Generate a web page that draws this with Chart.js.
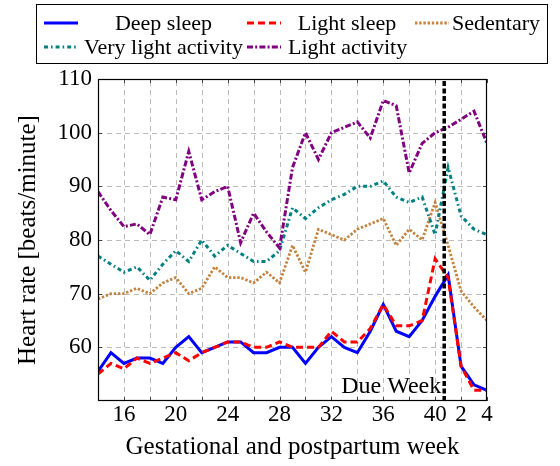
<!DOCTYPE html>
<html><head><meta charset="utf-8">
<script src="https://cdn.jsdelivr.net/npm/chart.js@4/dist/chart.umd.min.js"></script>
<style>
html,body{margin:0;padding:0;background:#fff;}
#wrap{position:relative;width:560px;height:466px;overflow:hidden;}
#c{position:absolute;left:0;top:0;}
#box{position:absolute;left:36px;top:4px;width:512px;height:60px;border:1px solid #000;box-sizing:border-box;}
.lt{position:absolute;font-family:'Liberation Serif',serif;font-size:22px;line-height:24px;height:24px;white-space:nowrap;color:#000;text-align:center;}
#sv{position:absolute;left:0;top:0;}
</style></head>
<body><div id="wrap">
<canvas id="c" width="560" height="466"></canvas>
<div id="box"></div>
<svg id="sv" width="560" height="70"></svg>
</div>
<script>
// ---- data ----
const weeks = [14,15,16,17,18,19,20,21,22,23,24,25,26,27,28,29,30,31,32,33,34,35,36,37,38,39,40,41,42,43,44];
const deepSleep = [55.5,59,57,58,58,57,60,62,59,60,61,61,59,59,60,60,57,60,62,60,59,63,68,63,62,65,69.5,73.5,56.5,53,52];
const lightSleep = [55,57,56,58,57,58,59,57.5,59,60,61,61,60,60,61,60,60,60,63,61,61,63.5,68,64,64,65,76.5,73,56.5,52,52];
const sedentary = [69,70,70,71,70,72,73,70,71,75,73,73,72,74,72,79,74,82,81,80,82,83,84,79,82,80,87,79,70.5,67.5,65];
const veryLightActivity = [77,75.5,74,75,72.5,75.5,78,76,80,77,79,77.5,76,76,78,86,84,86,87.5,88.5,90,90,91,88,87,88,81,93.5,84.5,82,81];
const lightActivity = [89,85.5,82.5,83,81,88,87.5,96.5,87.5,89,90,79.5,85,81.5,78.5,93.5,100,95,100,101,102,99,106,105,92.5,98,100,101,102.5,104,98];
const xTickValues = [16,20,24,28,32,36,40,42,44];
const xTickLabels = ['16','20','24','28','32','36','40','2','4'];
const yTickValues = [60,70,80,90,100,110];
const dueWeek = 40.7;
const seriesNames = ['Deep sleep','Light sleep','Sedentary','Very light activity','Light activity'];

// ---- styles ----
const styles = [
  {color:'#0000ff', dash:[], width:3},
  {color:'#ff0000', dash:[7,4], width:3},
  {color:'#c4843f', dash:[2.4,1.8], width:2.8},
  {color:'#008080', dash:[4,3,1.6,3], width:3},
  {color:'#800080', dash:[6,2.2,2,2.2], width:3}
];
const seriesData = [deepSleep, lightSleep, sedentary, veryLightActivity, lightActivity];
const FONT = "'Liberation Serif', serif";

const datasets = seriesData.map((arr,i)=>({
  label: seriesNames[i],
  data: arr.map((v,j)=>({x:weeks[j], y:v})),
  borderColor: styles[i].color,
  borderDash: styles[i].dash,
  borderWidth: styles[i].width,
  borderCapStyle:'butt',
  borderJoinStyle:'miter',
  pointRadius:0, tension:0, fill:false,
  order: 5-i
}));
datasets.push({
  label:'Due',
  data:[{x:dueWeek,y:50},{x:dueWeek,y:110}],
  borderColor:'#000', borderDash:[5,2.5], borderWidth:3.5, borderCapStyle:'butt',
  pointRadius:0, fill:false, order:0
});

const decor = {
  id:'decor',
  beforeDatasetsDraw(chart){
    const {ctx, chartArea:a, scales:{x,y}} = chart;
    ctx.save();
    ctx.strokeStyle='#bcbcbc'; ctx.lineWidth=1; ctx.setLineDash([5,4]);
    ctx.beginPath();
    for(let v=16; v<44; v+=2){
      const px = Math.round(x.getPixelForValue(v))+0.5;
      ctx.moveTo(px,a.bottom); ctx.lineTo(px,a.top);
    }
    yTickValues.forEach(v=>{
      if(v>=110) return;
      const py = Math.round(y.getPixelForValue(v))+0.5;
      ctx.moveTo(a.left,py); ctx.lineTo(a.right,py);
    });
    ctx.stroke();
    ctx.restore();
  },
  afterDraw(chart){
    const {ctx, chartArea:a, scales:{x,y}} = chart;
    ctx.save();
    ctx.strokeStyle='#444'; ctx.lineWidth=1;
    ctx.beginPath();
    for(let v=14; v<=44; v+=2){
      const px = Math.round(x.getPixelForValue(v))+0.5;
      ctx.moveTo(px,a.bottom); ctx.lineTo(px,a.bottom-4);
      ctx.moveTo(px,a.top); ctx.lineTo(px,a.top+4);
    }
    yTickValues.forEach(v=>{
      const py = Math.round(y.getPixelForValue(v))+0.5;
      ctx.moveTo(a.left,py); ctx.lineTo(a.left+4,py);
      ctx.moveTo(a.right,py); ctx.lineTo(a.right-4,py);
    });
    ctx.stroke();
    ctx.strokeStyle='#000'; ctx.lineWidth=1.2;
    ctx.strokeRect(a.left+0.5,a.top+0.5,a.right-a.left-1,a.bottom-a.top-1);
    ctx.fillStyle='#000';
    ctx.font = "24px "+FONT;
    ctx.textAlign='right'; ctx.textBaseline='alphabetic';
    ctx.fillText('Due Week', x.getPixelForValue(dueWeek)-3, 393);
    ctx.restore();
  }
};

Chart.defaults.font.family = FONT;
Chart.defaults.color = '#000';
new Chart(document.getElementById('c'), {
  type:'line',
  data:{datasets},
  options:{
    responsive:false, animation:false, devicePixelRatio:1,
    layout:{padding:{left:0,right:73,top:79,bottom:0}},
    plugins:{legend:{display:false}, tooltip:{enabled:false}},
    scales:{
      x:{type:'linear', min:14, max:44,
        afterFit(s){ s.height = 65; },
        ticks:{stepSize:2, autoSkip:false, maxRotation:0, padding:0,
          font:{size:23},
          callback:(v)=>{const i=xTickValues.indexOf(v); return i>=0?xTickLabels[i]:'';}},
        grid:{display:false, drawTicks:false},
        border:{display:false},
        title:{display:true, text:'Gestational and postpartum week', font:{size:25}, padding:{top:0,bottom:4}}
      },
      y:{min:50, max:110,
        afterFit(s){ s.width = 98; },
        ticks:{stepSize:10, padding:6, font:{size:23},
          callback:(v)=> yTickValues.includes(v)? String(v):''},
        grid:{display:false, drawTicks:false},
        border:{display:false},
        title:{display:true, text:'Heart rate [beats/minute]', font:{size:25}, padding:{top:13,bottom:0}}
      }
    }
  },
  plugins:[decor]
});

// ---- legend ----
const wrap = document.getElementById('wrap');
const sv = document.getElementById('sv');
const legendCells = [
  {i:0, sx:44, cx:84, cw:159, cy:23},
  {i:1, sx:247, cx:288, cw:118, cy:23},
  {i:2, sx:415, cx:452, cw:86, cy:23},
  {i:3, sx:44, cx:84, cw:159, cy:47},
  {i:4, sx:247, cx:288, cw:118, cy:47}
];
legendCells.forEach(c=>{
  const st = styles[c.i];
  const ln = document.createElementNS('http://www.w3.org/2000/svg','line');
  ln.setAttribute('x1',c.sx); ln.setAttribute('x2',c.sx+34);
  ln.setAttribute('y1',c.cy); ln.setAttribute('y2',c.cy);
  ln.setAttribute('stroke',st.color); ln.setAttribute('stroke-width',st.width);
  if(st.dash.length) ln.setAttribute('stroke-dasharray',st.dash.join(' '));
  sv.appendChild(ln);
  const d = document.createElement('div');
  d.className='lt'; d.textContent = seriesNames[c.i];
  d.style.left = c.cx+'px'; d.style.width = c.cw+'px'; d.style.top = (c.cy-12)+'px';
  wrap.appendChild(d);
});
</script>
</body></html>
